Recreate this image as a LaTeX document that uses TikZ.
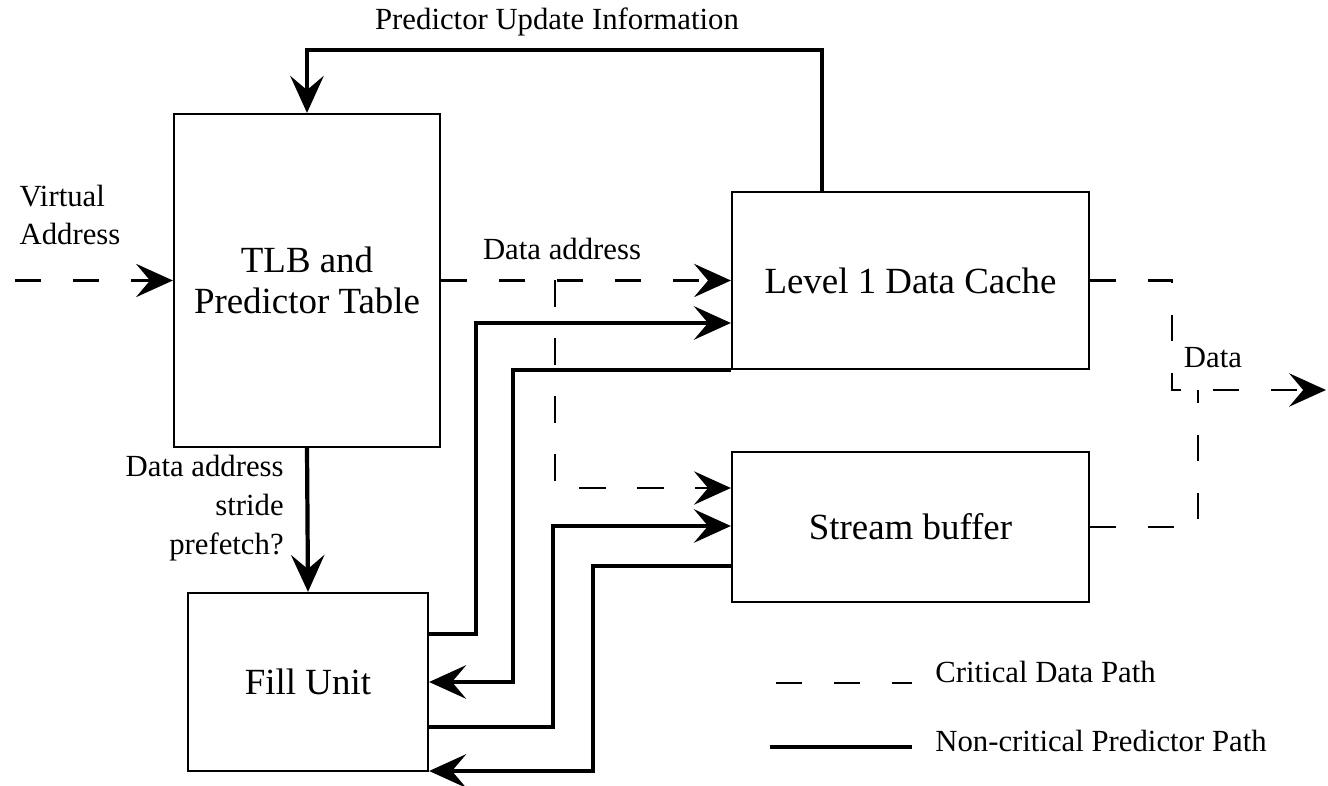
\documentclass[tikz,border=0pt]{standalone}
\usepackage{fontspec}
\setmainfont{Liberation Serif}
\usetikzlibrary{arrows.meta}

\tikzset{
  unitbox/.style={draw, line width=1.3pt, align=center, inner sep=0pt,
    font=\fontsize{21}{23}\selectfont},
  lbl/.style={font=\fontsize{17.5}{22}\selectfont, inner sep=0pt},
  datapath/.style={line width=1.2pt, dash pattern=on 15pt off 18pt},
  predpath/.style={line width=2.4pt},
  bigtip/.style={-{Stealth[length=21pt,width=19pt,inset=8pt]}},
}

\begin{document}
\begin{tikzpicture}[x=0.02cm, y=-0.02cm]
  \useasboundingbox (0,0) rectangle (1328,786);

  % Units
  \node[unitbox, minimum width=5.32cm, minimum height=6.66cm] (tlb) at (307,280.5) {TLB and\\Predictor Table};
  \node[unitbox, minimum width=7.14cm, minimum height=3.54cm] (l1) at (910.5,280.5) {Level 1 Data Cache};
  \node[unitbox, minimum width=7.14cm, minimum height=3.0cm] (sb) at (910.5,527) {Stream buffer};
  \node[unitbox, minimum width=4.8cm, minimum height=3.56cm] (fill) at (308,682) {Fill Unit};

  % Bend points
  \coordinate (upd) at (822,50);
  \coordinate (vin) at (15,280.5);
  \coordinate (split) at (555,280.5);
  \coordinate (b1) at (476,323);
  \coordinate (b2) at (513,682);
  \coordinate (b3) at (553,526);
  \coordinate (b4) at (593,771);
  \coordinate (j1) at (1172,390);
  \coordinate (j2) at (1198,390);
  \coordinate (dout) at (1326,390);

  % Critical data path
  \draw[datapath, bigtip] (vin) -- (tlb.west);
  \draw[datapath, bigtip] (tlb.east) -- (l1.west);
  \draw[datapath, bigtip] (split) |- ([yshift=0.78cm]sb.west);
  \draw[datapath, bigtip] (l1.east) -| (j1) -- (dout);
  \draw[datapath] (sb.east) -| (j2);

  % Predictor paths
  \draw[predpath, bigtip] (l1.north -| upd) |- (upd -| tlb.north) -- (tlb.north);
  \draw[predpath, bigtip] (tlb.south) -- (fill.north);
  \draw[predpath, bigtip] ([yshift=0.96cm]fill.east) -| (b1) -- (b1 -| l1.west);
  \draw[predpath, bigtip] (l1.south west) -| (b2) -- (b2 -| fill.east);
  \draw[predpath, bigtip] ([yshift=-0.9cm]fill.east) -| (b3) -- (b3 -| sb.west);
  \draw[predpath, bigtip] ([yshift=-0.78cm]sb.west) -| (b4) -- (b4 -| fill.east);

  % Labels
  \node[lbl] (updlbl) at (557,22) {Predictor Update Information};
  \node[lbl, align=left] (valbl) at (70,215) {Virtual\\Address};
  \node[lbl] (dalbl) at (562,249) {Data address};
  \node[lbl, align=right, anchor=east] (strlbl) at (284,508) {Data address\\stride\\prefetch?};
  \node[lbl] (datalbl) at (1213,358) {Data};

  % Legend
  \node[lbl, anchor=west] (critlbl) at (935,672) {Critical Data Path};
  \node[lbl, anchor=west] (predlbl) at (935,741) {Non-critical Predictor Path};
  \coordinate (k1) at (776,683);
  \coordinate (k2) at (770,747);
  \draw[datapath] (k1) -- ++(136,0);
  \draw[predpath] (k2) -- ++(142,0);
\end{tikzpicture}
\end{document}
